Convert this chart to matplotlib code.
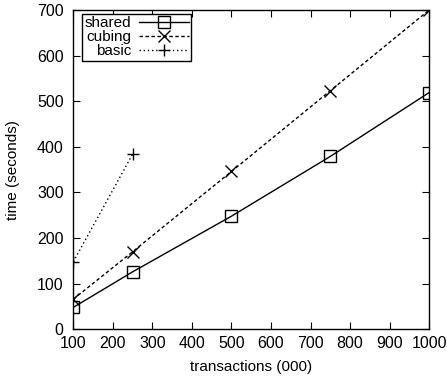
import matplotlib
matplotlib.use("Agg")
import matplotlib.pyplot as plt

plt.rcParams['font.family'] = ['Liberation Sans', 'DejaVu Sans']

# datos
transacciones = [100, 250, 500, 750, 1000]
tiempoShared = [48, 126, 248, 379, 519]
tiempoCubing = [66, 170, 346, 523, 700]
transaccionesBasic = [100, 250]
tiempoBasic = [148, 384]

fig = plt.figure(figsize=(4.47, 3.81), dpi=100)
ax = fig.add_axes([0.164, 0.1357, 0.796, 0.838])

ax.plot(transacciones, tiempoShared, color='black', linewidth=1, linestyle='-',
        marker='s', markersize=8, markerfacecolor='none', markeredgewidth=1, label='shared')
ax.plot(transacciones, tiempoCubing, color='black', linewidth=1, linestyle=(0, (2.5, 1.8)),
        marker='x', markersize=8, markeredgewidth=1, label='cubing')
ax.plot(transaccionesBasic, tiempoBasic, color='black', linewidth=1, linestyle=(0, (1, 2)),
        marker='+', markersize=9, markeredgewidth=1, label='basic')

ax.set_xlim(100, 1000)
ax.set_ylim(0, 700)
ax.set_xticks(range(100, 1001, 100))
ax.set_yticks(range(0, 701, 100))
ax.tick_params(direction='in', length=5, top=True, right=True, labelsize=11.5)
ax.tick_params(axis='x', pad=5)
ax.tick_params(axis='y', pad=7)
for lado in ax.spines.values():
    lado.set_linewidth(1)

ax.set_xlabel("transactions (000)", fontsize=11, labelpad=6)
ax.set_ylabel("time (seconds)", fontsize=11, labelpad=12)

leyenda = ax.legend(loc='upper left', bbox_to_anchor=(0.025, 0.987), markerfirst=False,
                    fontsize=11, handlelength=3.3, handletextpad=0.5, labelspacing=0.0,
                    borderpad=0.15, borderaxespad=0, fancybox=False, framealpha=1)
leyenda.get_frame().set_edgecolor('black')
leyenda.get_frame().set_linewidth(1)

plt.savefig("out.png", dpi=100)
